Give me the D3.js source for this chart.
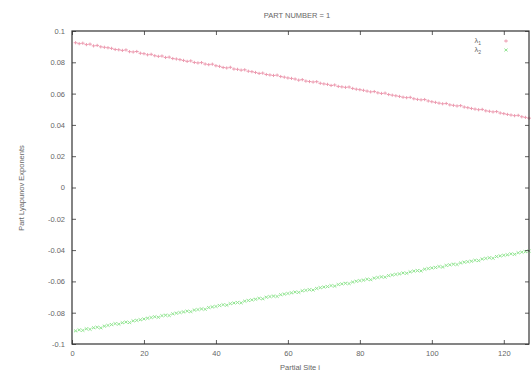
<!DOCTYPE html>
<html><head><meta charset="utf-8">
<script src="https://cdn.jsdelivr.net/npm/d3@7"></script>
<style>body{margin:0;background:#fff}svg{display:block}text{font-family:"Liberation Sans",Arial,sans-serif}</style>
</head><body><svg id="c" width="531" height="379"></svg>
<script>
const title = "PART NUMBER = 1";
const xLabel = "Partial Site i";
const yLabel = "Part Lyapunov Exponents";
const xTicks = [0,20,40,60,80,100,120];
const yTicks = [0.1,0.08,0.06,0.04,0.02,0,-0.02,-0.04,-0.06,-0.08,-0.1];
const yTickLabels = ["0.1","0.08","0.06","0.04","0.02","0","-0.02","-0.04","-0.06","-0.08","-0.1"];
const seriesNames = ["λ1","λ2"];
const lambda1 = [
0.0925,0.0919,0.0922,0.0913,0.0916,0.0905,0.0908,0.0899,0.0896,0.0893,
0.0889,0.0882,0.0880,0.0876,0.0879,0.0868,0.0866,0.0869,0.0858,0.0855,
0.0848,0.0851,0.0842,0.0838,0.0840,0.0831,0.0833,0.0824,0.0821,0.0817,
0.0812,0.0806,0.0809,0.0799,0.0796,0.0798,0.0789,0.0785,0.0788,0.0778,
0.0774,0.0767,0.0764,0.0768,0.0757,0.0755,0.0750,0.0752,0.0743,0.0740,
0.0735,0.0729,0.0731,0.0722,0.0719,0.0716,0.0718,0.0709,0.0705,0.0700,
0.0697,0.0693,0.0686,0.0689,0.0680,0.0677,0.0674,0.0676,0.0666,0.0662,
0.0659,0.0652,0.0655,0.0646,0.0643,0.0640,0.0642,0.0633,0.0628,0.0625,
0.0621,0.0616,0.0611,0.0613,0.0605,0.0601,0.0603,0.0594,0.0590,0.0586,
0.0582,0.0577,0.0574,0.0576,0.0567,0.0563,0.0560,0.0562,0.0553,0.0548,
0.0544,0.0539,0.0535,0.0537,0.0528,0.0525,0.0521,0.0523,0.0514,0.0510,
0.0505,0.0501,0.0497,0.0499,0.0490,0.0487,0.0483,0.0485,0.0476,0.0472,
0.0467,0.0463,0.0459,0.0461,0.0452,0.0448,0.0443];
const lambda2 = [
-0.0916,-0.0910,-0.0913,-0.0903,-0.0906,-0.0896,-0.0893,-0.0897,-0.0886,-0.0881,
-0.0876,-0.0870,-0.0873,-0.0864,-0.0860,-0.0863,-0.0852,-0.0849,-0.0845,-0.0840,
-0.0835,-0.0831,-0.0826,-0.0829,-0.0819,-0.0816,-0.0818,-0.0807,-0.0803,-0.0799,
-0.0795,-0.0790,-0.0793,-0.0783,-0.0780,-0.0776,-0.0778,-0.0767,-0.0763,-0.0760,
-0.0754,-0.0749,-0.0752,-0.0742,-0.0738,-0.0735,-0.0737,-0.0726,-0.0722,-0.0718,
-0.0714,-0.0708,-0.0711,-0.0701,-0.0697,-0.0694,-0.0696,-0.0685,-0.0681,-0.0677,
-0.0673,-0.0668,-0.0670,-0.0660,-0.0657,-0.0653,-0.0655,-0.0645,-0.0640,-0.0636,
-0.0633,-0.0627,-0.0630,-0.0620,-0.0616,-0.0612,-0.0614,-0.0604,-0.0599,-0.0595,
-0.0592,-0.0586,-0.0589,-0.0579,-0.0575,-0.0571,-0.0573,-0.0563,-0.0559,-0.0555,
-0.0552,-0.0546,-0.0548,-0.0539,-0.0534,-0.0531,-0.0533,-0.0522,-0.0518,-0.0514,
-0.0511,-0.0505,-0.0508,-0.0498,-0.0494,-0.0490,-0.0492,-0.0482,-0.0477,-0.0474,
-0.0471,-0.0465,-0.0467,-0.0457,-0.0453,-0.0449,-0.0452,-0.0441,-0.0437,-0.0433,
-0.0430,-0.0424,-0.0427,-0.0417,-0.0413,-0.0410,-0.0406];
const colors = ["#ec9bb0","#92e592"];

const svg = d3.select("#c");
const L=72, R=529, T=31, B=344;
const x = d3.scaleLinear().domain([0,127]).range([L,R]);
const y = d3.scaleLinear().domain([-0.1,0.1]).range([B,T]);
const txt = "#666";
const fs = "7.5px";

function marker(k, px, py){
  return k===0
    ? `M${px-1.9},${py}H${px+1.9}M${px},${py-1.6}V${py+1.6}`
    : `M${px-1.6},${py-1.4}L${px+1.6},${py+1.4}M${px-1.6},${py+1.4}L${px+1.6},${py-1.4}`;
}

// series
[lambda1, lambda2].forEach((arr, k) => {
  const g = svg.append("g").attr("stroke", colors[k]).attr("stroke-width", 1).attr("fill","none");
  g.selectAll("path").data(arr).join("path")
    .attr("d", (d,i) => marker(k, x(i+1), y(d)));
});

// axes with inward ticks (mirrored)
const axB = d3.axisBottom(x).tickValues(xTicks).tickSize(-4).tickPadding(7).tickFormat(d3.format("d"));
const axT = d3.axisTop(x).tickValues(xTicks).tickSize(-4).tickFormat("");
const axL = d3.axisLeft(y).tickValues(yTicks).tickSize(-4).tickPadding(7).tickFormat((d,i)=>yTickLabels[i]);
const axR = d3.axisRight(y).tickValues(yTicks).tickSize(-4).tickFormat("");
function style(g){ g.select(".domain").remove(); g.selectAll("line").attr("stroke","#333").attr("stroke-width",0.8);
  g.selectAll("text").attr("fill",txt).style("font-size",fs); }
svg.append("g").attr("transform",`translate(0,${B})`).call(axB).call(style);
svg.append("g").attr("transform",`translate(0,${T})`).call(axT).call(style);
svg.append("g").attr("transform",`translate(${L},0)`).call(axL).call(style);
svg.append("g").attr("transform",`translate(${R},0)`).call(axR).call(style);
svg.append("rect").attr("x",L).attr("y",T).attr("width",R-L).attr("height",B-T)
  .attr("fill","none").attr("stroke","#333").attr("stroke-width",1.2);

// title & labels
svg.append("text").attr("x",297).attr("y",18).attr("text-anchor","middle").attr("fill",txt).style("font-size",fs).text(title);
svg.append("text").attr("x",300).attr("y",370).attr("text-anchor","middle").attr("fill",txt).style("font-size",fs).text(xLabel);
svg.append("text").attr("transform","translate(24,188) rotate(-90)").attr("text-anchor","middle").attr("fill",txt).style("font-size",fs).text(yLabel);

// legend
seriesNames.forEach((n,k)=>{
  const ly = 41 + k*9;
  const t = svg.append("text").attr("x",481).attr("y",ly+2).attr("text-anchor","end").attr("fill",txt).style("font-size",fs);
  t.append("tspan").text(n.charAt(0));
  t.append("tspan").attr("dy",2).style("font-size","5px").text(n.slice(1));
  svg.append("path").attr("stroke",colors[k]).attr("stroke-width",1).attr("fill","none")
    .attr("d", marker(k, 506, ly));
});
</script></body></html>
